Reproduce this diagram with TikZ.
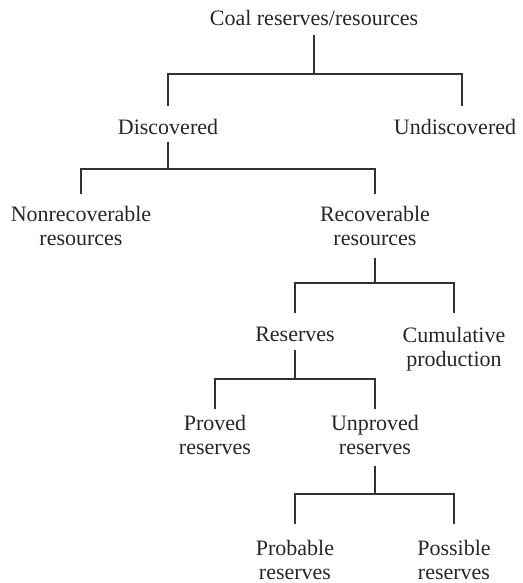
\documentclass[tikz,border=0pt]{standalone}
\usepackage{fontspec}
\setmainfont{Liberation Serif}

\begin{document}
\begin{tikzpicture}[x=1pt, y=1pt,
    box/.style={anchor=north, inner sep=0pt, align=center, text=black!85,
        font=\fontsize{22}{24}\selectfont},
    stem/.style={draw=black!80, line width=1.1pt, shorten <=#1},
    tie/.style={draw=black!80, line width=1.1pt, shorten >=#1}]
    \useasboundingbox (0,0) rectangle (522,-583);

    \node[box] (coal) at (314,-10) {Coal reserves/resources};
    \node[box] (disc) at (168,-119) {Discovered};
    \node[box] (undisc) at (455,-119) {Undiscovered};
    \node[box] (nonrec) at (81,-206) {Nonrecoverable\\resources};
    \node[box] (rec) at (375,-206) {Recoverable\\resources};
    \node[box] (res) at (295,-327) {Reserves};
    \node[box] (cumul) at (454,-327) {Cumulative\\production};
    \node[box] (proved) at (215,-415) {Proved\\reserves};
    \node[box] (unproved) at (375,-415) {Unproved\\reserves};
    \node[box] (probable) at (295,-540) {Probable\\reserves};
    \node[box] (possible) at (454,-540) {Possible\\reserves};

    \coordinate (k1) at (314,-74);
    \coordinate (k2) at (168,-169);
    \coordinate (k3) at (375,-283);
    \coordinate (k4) at (295,-379);
    \coordinate (k5) at (375,-494);

    \draw[stem=9pt] (coal) -- (k1);
    \draw[tie=13pt] (k1) -| (disc);
    \draw[tie=13pt] (k1) -| ([xshift=7pt]undisc.north);

    \draw[stem=7pt] (disc) -- (k2);
    \draw[tie=12pt] (k2) -| (nonrec);
    \draw[tie=12pt] (k2) -| (rec);

    \draw[stem=12pt] (rec) -- (k3);
    \draw[tie=14pt] (k3) -| (res);
    \draw[tie=14pt] (k3) -| (cumul);

    \draw[stem=8pt] (res) -- (k4);
    \draw[tie=6pt] (k4) -| (proved);
    \draw[tie=6pt] (k4) -| (unproved);

    \draw[stem=11pt] (unproved) -- (k5);
    \draw[tie=16pt] (k5) -| (probable);
    \draw[tie=16pt] (k5) -| (possible);
\end{tikzpicture}
\end{document}
